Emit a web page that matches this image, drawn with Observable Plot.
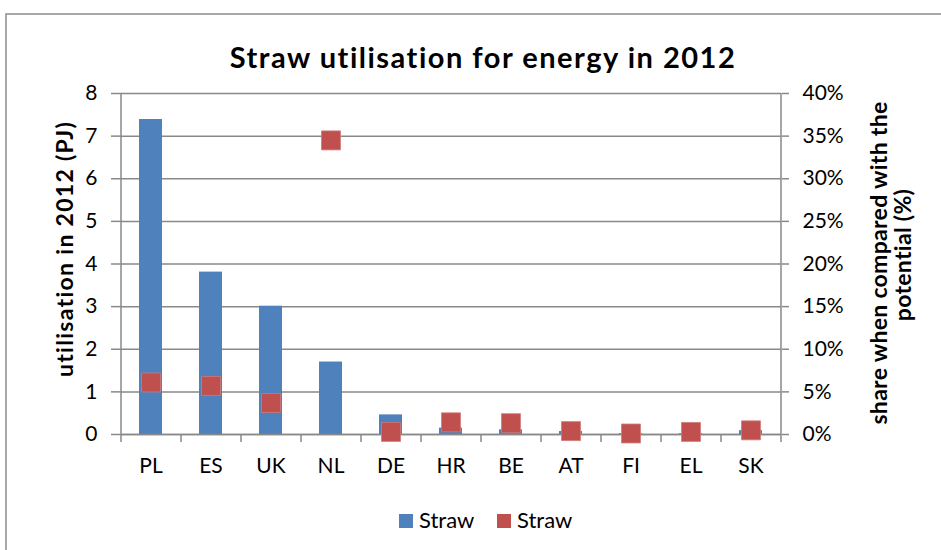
<!DOCTYPE html>
<html>
<head>
<meta charset="utf-8">
<script src="https://cdn.jsdelivr.net/npm/d3@7"></script>
<script src="https://cdn.jsdelivr.net/npm/@observablehq/plot@0.6"></script>
<style>
  html, body { margin: 0; padding: 0; background: #fff; }
  #wrap { position: relative; width: 941px; height: 550px; overflow: hidden; font-family: Lato, "Open Sans", sans-serif; }
  #wrap > svg { position: absolute; left: 0; top: 0; }
</style>
</head>
<body>
<div id="wrap"></div>
<script>
// ---- data ----
const countries = ["PL", "ES", "UK", "NL", "DE", "HR", "BE", "AT", "FI", "EL", "SK"];
const utilisationPJ = [7.39, 3.81, 3.01, 1.70, 0.46, 0.15, 0.11, 0.07, 0.02, 0.02, 0.09];
const sharePct = [6.1, 5.7, 3.7, 34.5, 0.3, 1.43, 1.33, 0.4, 0.12, 0.3, 0.49];
const leftTicks = [0, 1, 2, 3, 4, 5, 6, 7, 8];
const rightTicks = [0, 5, 10, 15, 20, 25, 30, 35, 40];
const seriesNames = ["Straw", "Straw"];

const title = "Straw utilisation for energy in 2012";
const leftLabel = "utilisation in 2012 (PJ)";
const rightLabel = ["share when compared with the", "potential (%)"];

const data = countries.map((c, i) => ({country: c, pj: utilisationPJ[i], share: sharePct[i]}));

const blue = "#4f81bd";
const red = "#c0504d";
const gridColor = "#898989";

const W = 941, H = 550;
const mL = 121, mR = 160, mT = 93, mB = 116;
const step = (W - mL - mR) / countries.length;
const pctToLeft = 8 / 40; // right axis 40% aligns with left 8 PJ

const chart = Plot.plot({
  width: W,
  height: H,
  marginLeft: mL,
  marginRight: mR,
  marginTop: mT,
  marginBottom: mB,
  style: {fontFamily: "Lato, 'Open Sans', sans-serif", fontSize: "21px", color: "#000", background: "transparent"},
  x: {type: "band", domain: countries, paddingInner: 0.61, paddingOuter: 0.305},
  y: {domain: [0, 8]},
  marks: [
    Plot.ruleY(leftTicks, {stroke: gridColor, strokeWidth: 1.5}),
    Plot.barY(data, {x: "country", y: "pj", fill: blue}),
    Plot.ruleX([countries[0]], {dx: -step / 2, y1: 0, y2: 8, stroke: gridColor, strokeWidth: 1.5}),
    Plot.ruleX([countries[countries.length - 1]], {dx: step / 2, y1: 0, y2: 8, stroke: gridColor, strokeWidth: 1.5}),
    Plot.ruleX([countries[0]], {dx: -step / 2, y1: 0, y2: -0.19, stroke: gridColor, strokeWidth: 1.5}),
    Plot.ruleX(countries, {dx: step / 2, y1: 0, y2: -0.19, stroke: gridColor, strokeWidth: 1.5}),
    Plot.ruleY([0], {stroke: gridColor, strokeWidth: 1.5}),
    Plot.dot(data, {x: "country", y: d => d.share * pctToLeft, symbol: "square", r: 10.7, fill: red, stroke: "#d27a77", strokeWidth: 0.8}),
    Plot.axisY(leftTicks, {anchor: "left", tickSize: 10, tickPadding: 14, stroke: gridColor, strokeWidth: 1.5, label: null, tickFormat: d => String(d)}),
    Plot.axisY(rightTicks.map(p => p * pctToLeft), {anchor: "right", tickSize: 7, tickPadding: 14, stroke: gridColor, strokeWidth: 1.5, label: null, tickFormat: d => `${Math.round(d / pctToLeft)}%`}),
    Plot.axisX({anchor: "bottom", tickSize: 0, tickPadding: 24, label: null})
  ]
});

const wrap = document.getElementById("wrap");
wrap.appendChild(chart);

const ov = d3.select(wrap).append("svg")
  .attr("width", W).attr("height", H)
  .style("position", "absolute").style("left", 0).style("top", 0)
  .style("font-family", "Lato, 'Open Sans', sans-serif");

ov.append("path").attr("d", `M6,${H + 5} V14 H${W + 5}`).attr("fill", "none").attr("stroke", "#8c8c8c").attr("stroke-width", 1.5);

ov.append("text").attr("x", 483).attr("y", 68).attr("text-anchor", "middle")
  .attr("font-size", 29).attr("font-weight", 700).attr("letter-spacing", 1.5).text(title);

ov.append("text").attr("transform", "translate(73,249) rotate(-90)").attr("text-anchor", "middle")
  .attr("font-size", 23).attr("font-weight", 700).attr("letter-spacing", 1.3).text(leftLabel);

ov.append("text").attr("transform", "translate(887,263) rotate(-90)").attr("text-anchor", "middle")
  .attr("font-size", 23).attr("font-weight", 700).attr("letter-spacing", 0.3).text(rightLabel[0]);
ov.append("text").attr("transform", "translate(911,255) rotate(-90)").attr("text-anchor", "middle")
  .attr("font-size", 23).attr("font-weight", 700).attr("letter-spacing", 0.3).text(rightLabel[1]);

const leg = [{x: 399, color: blue, name: seriesNames[0]}, {x: 497, color: red, name: seriesNames[1]}];
leg.forEach(l => {
  ov.append("rect").attr("x", l.x).attr("y", 514).attr("width", 14).attr("height", 14).attr("fill", l.color);
  ov.append("text").attr("x", l.x + 20).attr("y", 528).attr("font-size", 22).text(l.name);
});
</script>
</body>
</html>
